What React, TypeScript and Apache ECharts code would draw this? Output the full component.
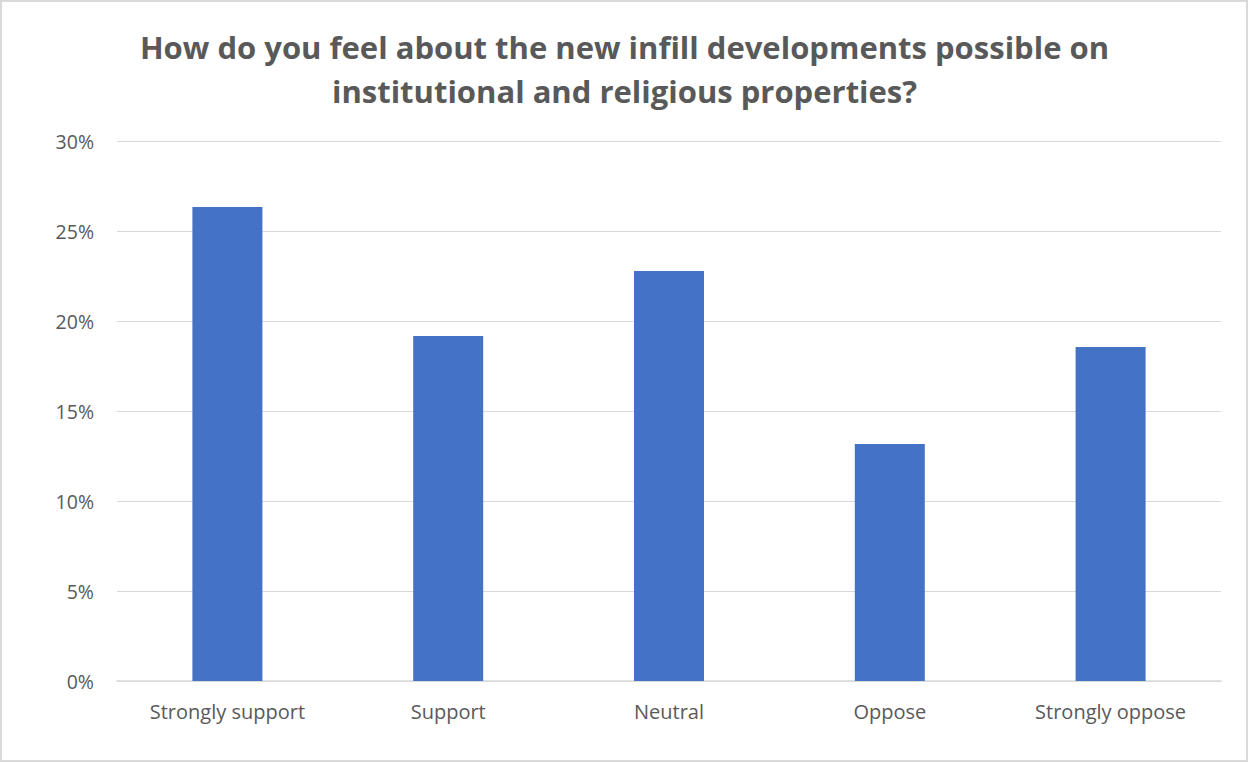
import React, { useEffect, useRef } from "react";
import * as echarts from "echarts";

const categories = ["Strongly support", "Support", "Neutral", "Oppose", "Strongly oppose"];
const values = [26.33, 19.17, 22.78, 13.17, 18.56];
const yTicks = [0, 5, 10, 15, 20, 25, 30];
const titleLines = [
  "How do you feel about the new infill developments possible on",
  "institutional and religious properties?",
];

export default function App() {
  const ref = useRef<HTMLDivElement>(null);
  useEffect(() => {
    document.body.style.margin = "0";
    const chart = echarts.init(ref.current!, undefined, { renderer: "svg" });
    chart.setOption({
      animation: false,
      backgroundColor: "#ffffff",
      title: {
        text: titleLines.join("\n"),
        left: "center",
        top: 20,
        textStyle: {
          fontFamily: "Open Sans",
          fontWeight: "bold",
          fontSize: 31,
          color: "#595959",
          lineHeight: 44,
        },
      },
      graphic: [
        {
          type: "rect",
          shape: { x: 1, y: 1, width: 1246, height: 760 },
          style: { fill: "none", stroke: "#d9d9d9", lineWidth: 2 },
          silent: true,
        },
      ],
      grid: { left: 117, right: 28, top: 141, bottom: 82 },
      xAxis: {
        type: "category",
        data: categories,
        axisLine: { lineStyle: { color: "#d9d9d9", width: 1.5 } },
        axisTick: { show: false },
        axisLabel: {
          margin: 20,
          fontFamily: "Open Sans",
          fontSize: 20,
          color: "#595959",
        },
      },
      yAxis: {
        type: "value",
        min: yTicks[0],
        max: yTicks[yTicks.length - 1],
        interval: 5,
        axisLine: { show: false },
        axisTick: { show: false },
        splitLine: { lineStyle: { color: "#d9d9d9", width: 1 } },
        axisLabel: {
          margin: 23,
          fontFamily: "Open Sans",
          fontSize: 19.5,
          color: "#595959",
          formatter: (v: number) => `${v}%`,
        },
      },
      series: [
        {
          type: "bar",
          data: values,
          barWidth: 70,
          itemStyle: { color: "#4472c4" },
        },
      ],
    });
    return () => chart.dispose();
  }, []);
  return <div ref={ref} style={{ width: 1249, height: 763 }} />;
}
